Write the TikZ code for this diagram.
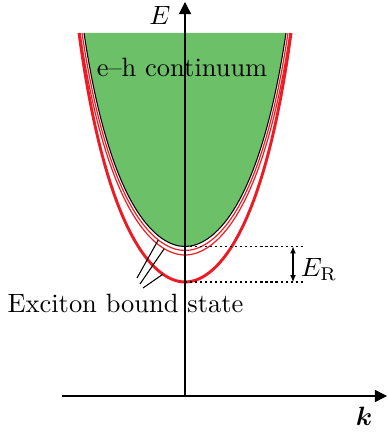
\documentclass[tikz,border=0pt]{standalone}
\usepackage{amsmath,amssymb}
\usepackage{bm}
\usetikzlibrary{calc,arrows.meta}

\definecolor{contgreen}{RGB}{108,192,104}
\definecolor{bandred}{RGB}{237,28,36}

% half width at the top, depth of the minimum, extra path bits at the minimum
\newcommand{\bowl}[3]{(185-#1,33) .. controls (185-0.733*#1,{#2-0.157*(#2-33)}) and (185-0.26*#1,#2) .. (185,#2) #3
  .. controls (185+0.26*#1,#2) and (185+0.733*#1,{#2-0.157*(#2-33)}) .. (185+#1,33)}

\begin{document}
\begin{tikzpicture}[x=0.378pt,y=-0.378pt,
    axis/.style={line width=0.5pt,-{Triangle[length=4.6pt,width=4.6pt]}},
    thinband/.style={bandred,line width=0.45pt},
    pointer/.style={line width=0.4pt}]
            \useasboundingbox (0,0) rectangle (387,439);

            \fill[contgreen] \bowl{101}{246.5}{} -- cycle;
            \draw[thinband] \bowl{103}{250.5}{coordinate[pos=0.72] (c1)};
            \draw[thinband] \bowl{105}{255}{coordinate[pos=0.78] (c2)};
            \draw[bandred, line width=1.1pt] \bowl{106}{282}{coordinate[pos=0.77] (c3)};
            \draw[line width=0.4pt] \bowl{101}{246.5}{};

            \coordinate (o) at (185,396);
            \coordinate (ytop) at (185,2);
            \coordinate (xleft) at (62,396);
            \coordinate (xright) at (387,396);
            \coordinate (top) at (185,246.5);
            \coordinate (bot) at (185,282);
            \coordinate (topend) at (305,246.5);
            \coordinate (botend) at (305,282);
            \coordinate (ra) at (293,246.5);
            \coordinate (rb) at (293,282);
            \coordinate (p1) at (137,278);
            \coordinate (p2) at (140,284);
            \coordinate (p3) at (143,288);

            \draw[axis] (o) -- (ytop);
            \draw[axis] (xleft) -- (xright);
            \draw[dash pattern=on 0.8pt off 1.1pt, line width=0.4pt] (top) -- (topend);
            \draw[dash pattern=on 0.8pt off 1.1pt, line width=0.4pt] (bot) -- (botend);
            \draw[{Latex[length=2.6pt,width=2.2pt]}-{Latex[length=2.6pt,width=2.2pt]}, line width=0.4pt] (ra) -- (rb);

            \foreach \i/\j in {p1/c1, p2/c2, p3/c3}{\draw[pointer] (\i) -- (\j);}

            \node[anchor=base] (elabel) at (160,25) {$E$};
            \node[anchor=base] (klabel) at (364,425) {$\bm{k}$};
            \node[anchor=base] (erlabel) at (319,277) {$E_{\mathrm{R}}$};
            \node[anchor=base] (cont) at (182,77) {e--h continuum};
            \node[anchor=base] (exciton) at (125.5,312) {Exciton bound state};
        \end{tikzpicture}
\end{document}
